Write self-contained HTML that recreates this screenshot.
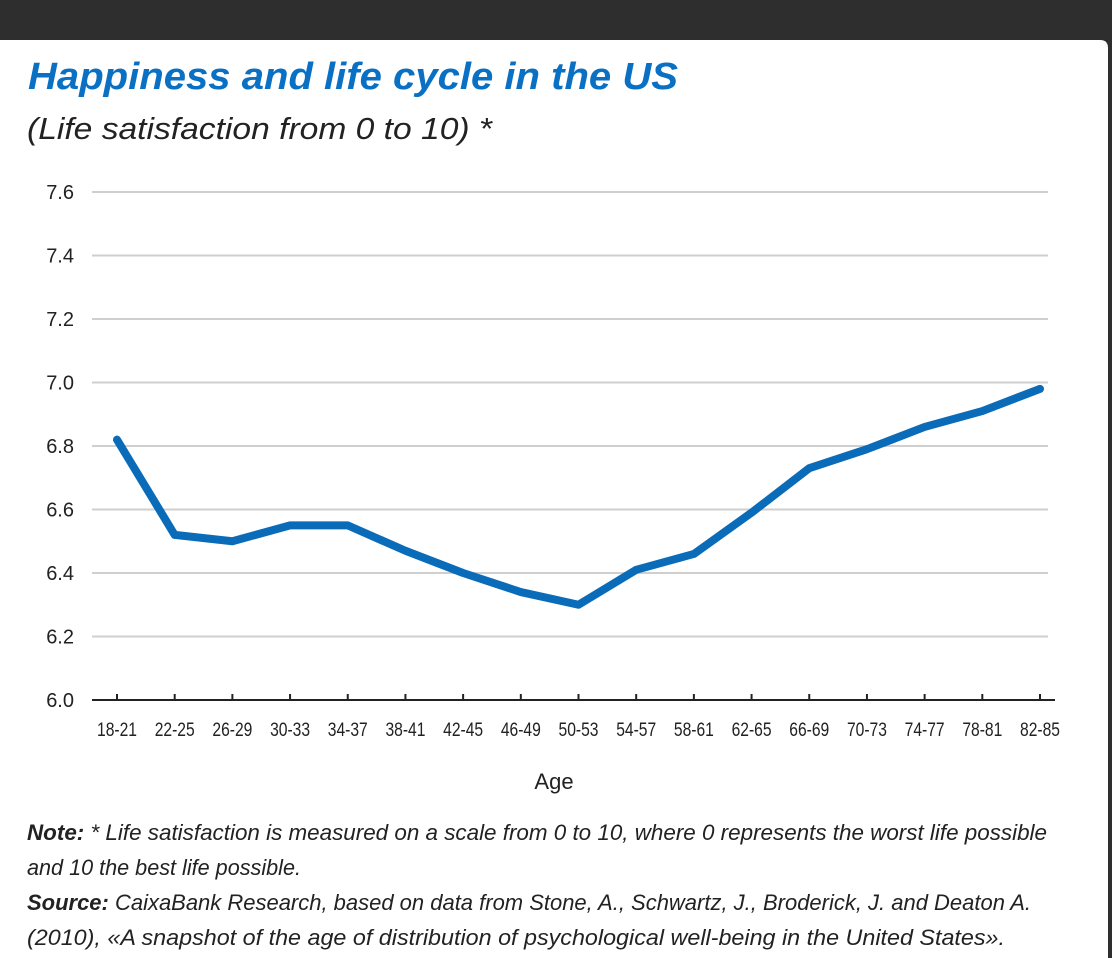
<!DOCTYPE html>
<html><head><meta charset="utf-8"><style>
html,body{margin:0;padding:0;background:#2e2e2e;}
svg{display:block;font-family:"Liberation Sans",sans-serif;}
</style></head><body>
<svg width="1112" height="958" viewBox="0 0 1112 958">
<rect x="0" y="0" width="1112" height="958" fill="#2e2e2e"/>
<path d="M0 40 H1100 Q1108 40 1108 48 V958 H0 Z" fill="#fff"/>
<text x="28" y="89" font-size="38" font-weight="bold" font-style="italic" fill="#0a70c4" textLength="650" lengthAdjust="spacingAndGlyphs">Happiness and life cycle in the US</text>
<text x="27" y="139" font-size="31" font-style="italic" fill="#222" textLength="465" lengthAdjust="spacingAndGlyphs">(Life satisfaction from 0 to 10) *</text>
<g id="grid"></g>
<g id="yt"></g>
<g id="xt"></g>
<path id="line" fill="none" stroke="#0a6cb8" stroke-width="8" stroke-linejoin="round" stroke-linecap="round"/>
<text x="554" y="789" font-size="22" fill="#222" text-anchor="middle">Age</text>
<g font-size="22" fill="#222" font-style="italic">
<text x="27" y="840" textLength="1020" lengthAdjust="spacingAndGlyphs"><tspan font-weight="bold">Note:</tspan> * Life satisfaction is measured on a scale from 0 to 10, where 0 represents the worst life possible</text>
<text x="27" y="875" textLength="274" lengthAdjust="spacingAndGlyphs">and 10 the best life possible.</text>
<text x="27" y="910" textLength="1004" lengthAdjust="spacingAndGlyphs"><tspan font-weight="bold">Source:</tspan> CaixaBank Research, based on data from Stone, A., Schwartz, J., Broderick, J. and Deaton A.</text>
<text x="27" y="945" textLength="978" lengthAdjust="spacingAndGlyphs">(2010), «A snapshot of the age of distribution of psychological well-being in the United States».</text>
</g>
</svg>
<script>
const categories=["18-21","22-25","26-29","30-33","34-37","38-41","42-45","46-49","50-53","54-57","58-61","62-65","66-69","70-73","74-77","78-81","82-85"];
const values=[6.82,6.52,6.50,6.55,6.55,6.47,6.40,6.34,6.30,6.41,6.46,6.59,6.73,6.79,6.86,6.91,6.98];
const yTicks=[6.0,6.2,6.4,6.6,6.8,7.0,7.2,7.4,7.6];
const NS="http://www.w3.org/2000/svg";
const yMin=6.0,yMax=7.6,yTop=192,yBot=700;
const x0=117,dx=(1040-117)/16;
function y(v){return yBot-(v-yMin)/(yMax-yMin)*(yBot-yTop);}
function x(i){return x0+i*dx;}
function mk(t,a){const e=document.createElementNS(NS,t);for(const k in a)e.setAttribute(k,a[k]);return e;}
const grid=document.getElementById('grid'),yt=document.getElementById('yt'),xt=document.getElementById('xt');
yTicks.forEach(v=>{
  if(v>yMin){const l=mk('line',{x1:92,x2:1048,y1:y(v),y2:y(v),stroke:'#cfcfcf','stroke-width':2});
  
  
  grid.appendChild(l);}
  const t=mk('text',{x:74,y:y(v)+7,'font-size':20,fill:'#222','text-anchor':'end'});
  
  
  t.textContent=v.toFixed(1);yt.appendChild(t);
});
const ax=mk('line',{x1:92,x2:1055,y1:yBot,y2:yBot,stroke:'#222','stroke-width':2});


xt.appendChild(ax);
categories.forEach((c,i)=>{
  const tk=mk('line',{x1:x(i),x2:x(i),y1:yBot-6,y2:yBot,stroke:'#222','stroke-width':2});
  
  
  xt.appendChild(tk);
  const t=mk('text',{x:x(i),y:736,'font-size':19,fill:'#222','text-anchor':'middle',textLength:40,lengthAdjust:'spacingAndGlyphs'});
  
  
  t.textContent=c;xt.appendChild(t);
});
document.getElementById('line').setAttribute('d',values.map((v,i)=>(i?'L':'M')+x(i)+' '+y(v)).join(' '));
</script>
</body></html>
